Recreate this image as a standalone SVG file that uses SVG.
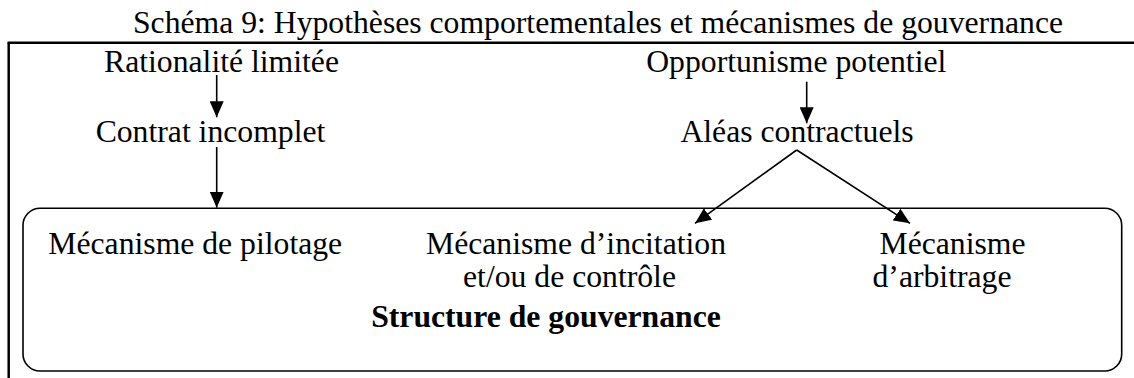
<svg xmlns="http://www.w3.org/2000/svg" width="1134" height="378" viewBox="0 0 1134 378">
  <style>
    text { font-family: "Liberation Serif", "Times New Roman", serif; font-size: 31.7px; fill: #000; }
    .c { text-anchor: middle; }
    .b { font-weight: bold; }
    .frame { stroke: #000; stroke-width: 2.5; fill: none; }
    .box { stroke: #000; stroke-width: 1.6; fill: none; }
    .conn { stroke: #000; stroke-width: 1.6; fill: none; marker-end: url(#arrow); }
  </style>
  <defs>
    <marker id="arrow" markerUnits="userSpaceOnUse" markerWidth="16" markerHeight="14" refX="16" refY="7" orient="auto">
      <path d="M0,0 L16,7 L0,14 z" fill="#000"/>
    </marker>
  </defs>
  <rect width="1134" height="378" fill="#fff"/>

  <g id="title">
    <text class="c" x="598" y="33.3">Schéma 9: Hypothèses comportementales et mécanismes de gouvernance</text>
  </g>

  <g id="frame">
    <line class="frame" x1="7.5" y1="42.7" x2="1134" y2="42.7"/>
    <line class="frame" x1="8.7" y1="42.7" x2="8.7" y2="378"/>
  </g>

  <g id="node-rationalite">
    <text class="c" x="221.5" y="71.7">Rationalité limitée</text>
  </g>
  <g id="node-contrat">
    <text class="c" x="210.5" y="141.7">Contrat incomplet</text>
  </g>
  <g id="node-opportunisme">
    <text class="c" x="796.3" y="71.7">Opportunisme potentiel</text>
  </g>
  <g id="node-aleas">
    <text class="c" x="797" y="141.7">Aléas contractuels</text>
  </g>

  <g id="node-structure">
    <rect class="box" x="23" y="208.3" width="1098.7" height="162.7" rx="17" ry="17"/>
    <text class="c b" x="546" y="326.7">Structure de gouvernance</text>
  </g>
  <g id="node-pilotage">
    <text x="48.3" y="254">Mécanisme de pilotage</text>
  </g>
  <g id="node-incitation">
    <text class="c" x="576" y="254">Mécanisme d’incitation</text>
    <text class="c" x="569.5" y="287">et/ou de contrôle</text>
  </g>
  <g id="node-arbitrage">
    <text class="c" x="952.5" y="254">Mécanisme</text>
    <text class="c" x="942" y="287">d’arbitrage</text>
  </g>

  <g id="connectors">
    <line class="conn" x1="216.7" y1="75" x2="216.7" y2="117.3"/>
    <line class="conn" x1="216.7" y1="147" x2="216.7" y2="207.7"/>
    <line class="conn" x1="806.7" y1="81.7" x2="806.7" y2="123.3"/>
    <line class="conn" x1="796.7" y1="150" x2="695" y2="223.3"/>
    <line class="conn" x1="796.7" y1="150" x2="910" y2="223.3"/>
  </g>
</svg>
